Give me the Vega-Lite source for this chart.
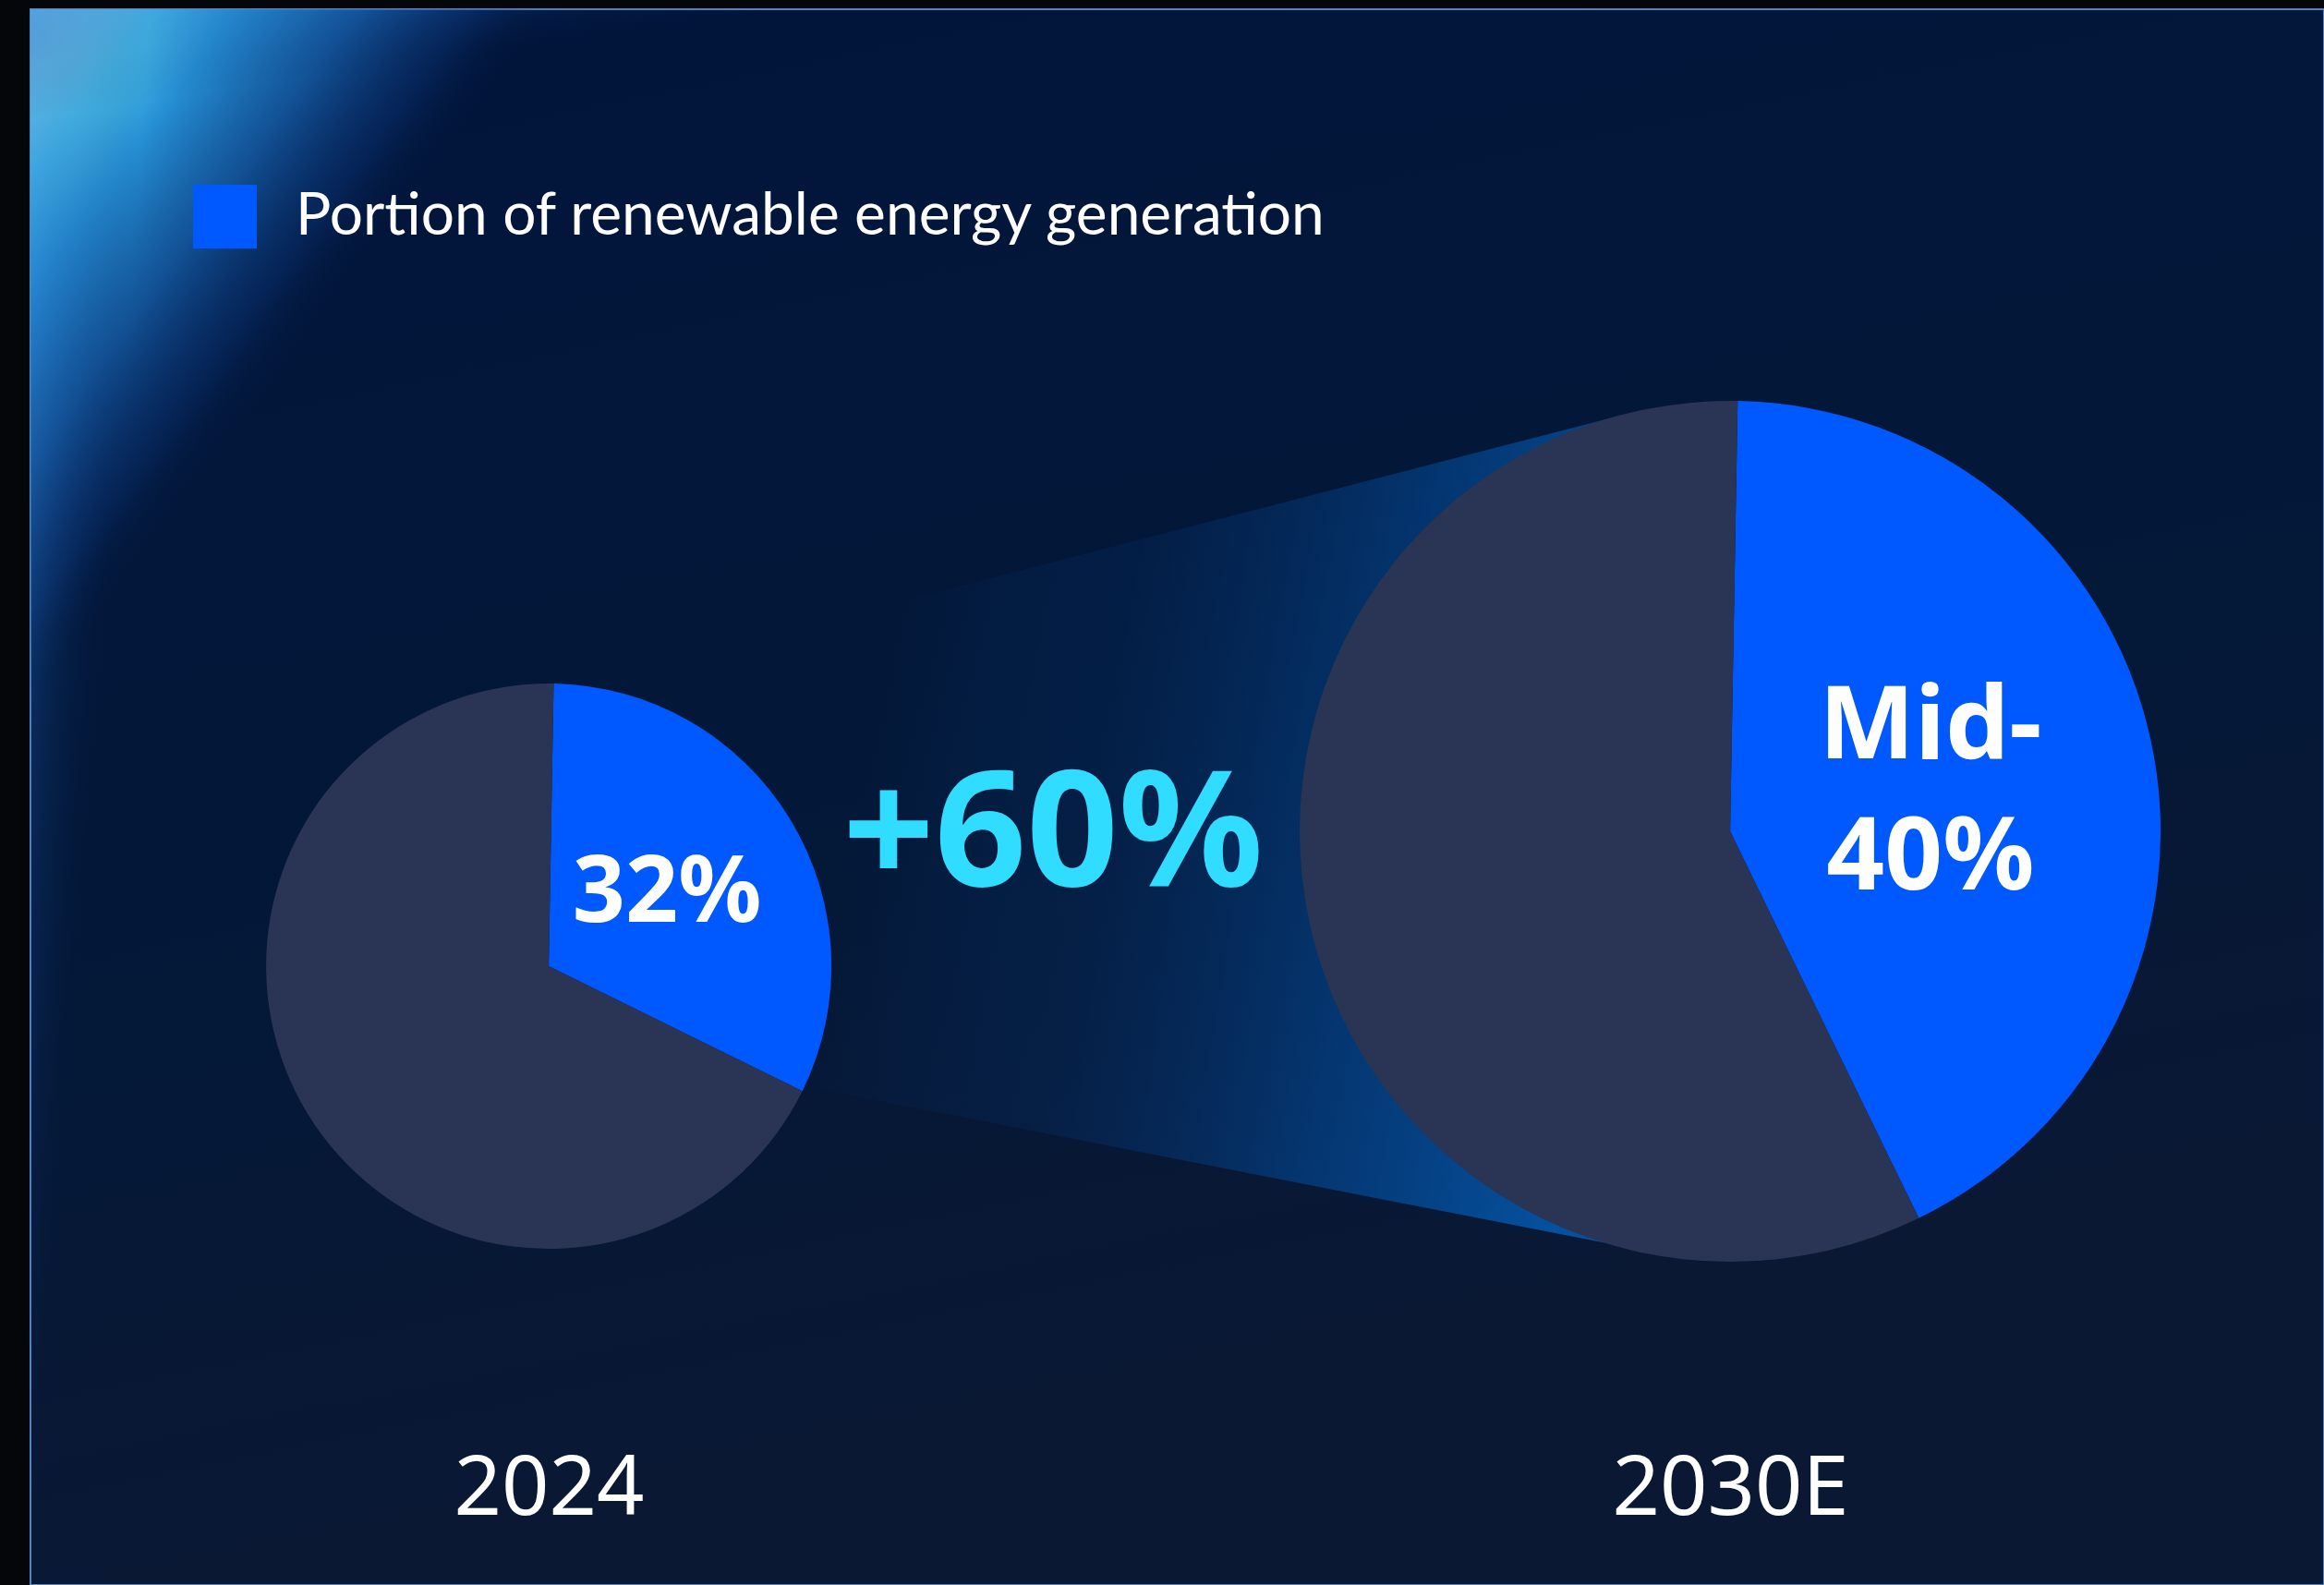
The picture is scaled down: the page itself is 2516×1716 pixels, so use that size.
{
  "$schema": "https://vega.github.io/schema/vega-lite/v6.json",
  "width": 2483,
  "height": 1706,
  "autosize": {"type": "none"},
  "padding": {"left": 33, "top": 10, "right": 0, "bottom": 0},
  "background": "#04060a",
  "config": {
    "view": {
      "fill": {"gradient": "linear", "x1": 0, "y1": 0, "x2": 0.3, "y2": 1,
        "stops": [{"offset": 0, "color": "#01153c"}, {"offset": 0.55, "color": "#031838"}, {"offset": 1, "color": "#0b1833"}]},
      "stroke": "#4f86c6",
      "strokeWidth": 2
    },
    "axis": {"grid": false, "domain": false, "ticks": false},
    "legend": {
      "orient": "none",
      "legendX": 176,
      "legendY": 190,
      "padding": 0,
      "symbolType": "square",
      "symbolSize": 4761,
      "symbolStrokeWidth": 0,
      "symbolOpacity": 1,
      "labelFont": "Lato, sans-serif",
      "labelFontSize": 64,
      "labelColor": "#ffffff",
      "labelOffset": 42,
      "labelLimit": 3000,
      "title": null
    }
  },
  "datasets": {
    "shares": [
      {"year": 2024, "category": "Portion of renewable energy generation", "share": 32, "label": "32%"},
      {"year": 2024, "category": "Other", "share": 68, "label": ""},
      {"year": 2030, "category": "Portion of renewable energy generation", "share": 42.5, "label": "Mid-\n40%"},
      {"year": 2030, "category": "Other", "share": 57.5, "label": ""}
    ]
  },
  "data": {"name": "shares"},
  "layer": [
    {
      "data": {"values": [{"decor": "corner glow"}]},
      "mark": {"type": "rect", "strokeWidth": 0,
        "fill": {"gradient": "linear", "x1": 0, "y1": 0, "x2": 1, "y2": 1,
          "stops": [
            {"offset": 0, "color": "#d8fdff"},
            {"offset": 0.06, "color": "#8fe9fa"},
            {"offset": 0.12, "color": "#50c8ef"},
            {"offset": 0.2, "color": "rgba(40,150,220,0.95)"},
            {"offset": 0.32, "color": "rgba(25,105,185,0.7)"},
            {"offset": 0.43, "color": "rgba(12,60,135,0.35)"},
            {"offset": 0.5, "color": "rgba(3,25,70,0)"},
            {"offset": 1, "color": "rgba(3,25,70,0)"}
          ]}},
      "encoding": {
        "x": {"datum": 2021.368, "type": "quantitative", "scale": {"domain": [2021.368, 2033.016], "nice": false, "zero": false},
          "axis": {"values": [2024, 2030], "format": "d", "labelExpr": "datum.value == 2030 ? '2030E' : datum.label",
            "title": null, "orient": "bottom", "offset": -148, "labelFontSize": 90, "labelColor": "#ffffff",
            "labelFont": "Noto Sans", "labelPadding": 0, "labelBaseline": "top", "tickSize": 0, "labelLimit": 1000,
            "labelFlush": false, "labelOverlap": false}},
        "x2": {"datum": 2023.995},
        "y": {"datum": 1, "type": "quantitative", "scale": {"domain": [0, 1], "nice": false, "zero": false}, "axis": null},
        "y2": {"datum": 0.5545}
      }
    },
    {
      "data": {"values": [{"decor": "left edge glow"}]},
      "mark": {"type": "rect", "strokeWidth": 0,
        "fill": {"gradient": "linear", "x1": 0, "y1": 0, "x2": 1, "y2": 1,
          "stops": [
            {"offset": 0, "color": "rgba(40,135,215,0.55)"},
            {"offset": 0.25, "color": "rgba(25,90,170,0.25)"},
            {"offset": 0.5, "color": "rgba(10,40,100,0)"},
            {"offset": 1, "color": "rgba(10,40,100,0)"}
          ]}},
      "encoding": {
        "x": {"datum": 2021.368, "type": "quantitative"},
        "x2": {"datum": 2021.978},
        "y": {"datum": 1, "type": "quantitative"},
        "y2": {"datum": 0}
      }
    },
    {
      "data": {"values": [{"decor": "top edge glow"}]},
      "mark": {"type": "rect", "strokeWidth": 0,
        "fill": {"gradient": "linear", "x1": 0, "y1": 0, "x2": 1, "y2": 1,
          "stops": [
            {"offset": 0, "color": "rgba(40,135,215,0.5)"},
            {"offset": 0.25, "color": "rgba(25,90,170,0.2)"},
            {"offset": 0.5, "color": "rgba(10,40,100,0)"},
            {"offset": 1, "color": "rgba(10,40,100,0)"}
          ]}},
      "encoding": {
        "x": {"datum": 2021.368, "type": "quantitative"},
        "x2": {"datum": 2025.12},
        "y": {"datum": 1, "type": "quantitative"},
        "y2": {"datum": 0.9297}
      }
    },
    {
      "data": {"values": [{"decor": "growth funnel"}]},
      "mark": {"type": "point", "filled": true, "size": 810000, "opacity": 1, "strokeWidth": 0,
        "shape": "M-0.9767,-0.4922L0.9767,-0.9967L0.9767,0.9967L-0.9767,0.6144Z",
        "fill": {"gradient": "linear", "x1": 0, "y1": 0.4, "x2": 1, "y2": 0.6,
          "stops": [
            {"offset": 0, "color": "rgba(5,60,130,0)"},
            {"offset": 0.08, "color": "rgba(5,60,130,0)"},
            {"offset": 0.35, "color": "rgba(4,45,100,0.3)"},
            {"offset": 0.7, "color": "rgba(4,62,128,0.8)"},
            {"offset": 1, "color": "rgba(5,84,165,0.95)"}
          ]}},
      "encoding": {
        "x": {"datum": 2027.361, "type": "quantitative"},
        "y": {"datum": 0.4786, "type": "quantitative"}
      }
    },
    {
      "transform": [{"filter": "datum.year == 2024"}],
      "mark": {"type": "arc", "outerRadius": 306, "strokeWidth": 0},
      "encoding": {
        "x": {"datum": 2024, "type": "quantitative"},
        "y": {"datum": 0.3927, "type": "quantitative"},
        "theta": {"field": "share", "type": "quantitative", "stack": true, "scale": {"range": [0.0175, 6.3007]}},
        "order": {"field": "share", "sort": "ascending"},
        "color": {"field": "category", "type": "nominal",
          "scale": {"domain": ["Portion of renewable energy generation", "Other"], "range": ["#0059ff", "#2a3555"]},
          "legend": {"values": ["Portion of renewable energy generation"]}}
      }
    },
    {
      "transform": [{"filter": "datum.year == 2030"}],
      "mark": {"type": "arc", "outerRadius": 466, "strokeWidth": 0},
      "encoding": {
        "x": {"datum": 2030, "type": "quantitative"},
        "y": {"datum": 0.4783, "type": "quantitative"},
        "theta": {"field": "share", "type": "quantitative", "stack": true},
        "order": {"field": "share", "sort": "ascending"},
        "color": {"field": "category", "type": "nominal"}
      }
    },
    {
      "transform": [{"filter": "datum.year == 2024 && datum.label != ''"}],
      "mark": {"type": "text", "radius": 150, "fontSize": 100, "fontWeight": "bold", "font": "Noto Sans", "color": "#ffffff", "align": "center", "baseline": "middle"},
      "encoding": {
        "x": {"datum": 2024, "type": "quantitative"},
        "y": {"datum": 0.3927, "type": "quantitative"},
        "theta": {"field": "share", "type": "quantitative", "stack": true},
        "text": {"field": "label"}
      }
    },
    {
      "transform": [{"filter": "datum.year == 2030 && datum.label != ''"}],
      "mark": {"type": "text", "radius": 222, "dy": -64, "fontSize": 110, "fontWeight": "bold", "font": "Noto Sans", "color": "#ffffff", "align": "center", "baseline": "middle", "lineBreak": "\n", "lineHeight": 142},
      "encoding": {
        "x": {"datum": 2030, "type": "quantitative"},
        "y": {"datum": 0.4783, "type": "quantitative"},
        "theta": {"field": "share", "type": "quantitative", "stack": true},
        "text": {"field": "label"}
      }
    },
    {
      "data": {"values": [{"label": "+60%"}]},
      "mark": {"type": "text", "fontSize": 174, "fontWeight": "bold", "font": "Noto Sans", "color": "#30dcff", "align": "center", "baseline": "middle"},
      "encoding": {
        "x": {"datum": 2026.561, "type": "quantitative"},
        "y": {"datum": 0.4742, "type": "quantitative"},
        "text": {"field": "label"}
      }
    }
  ]
}
